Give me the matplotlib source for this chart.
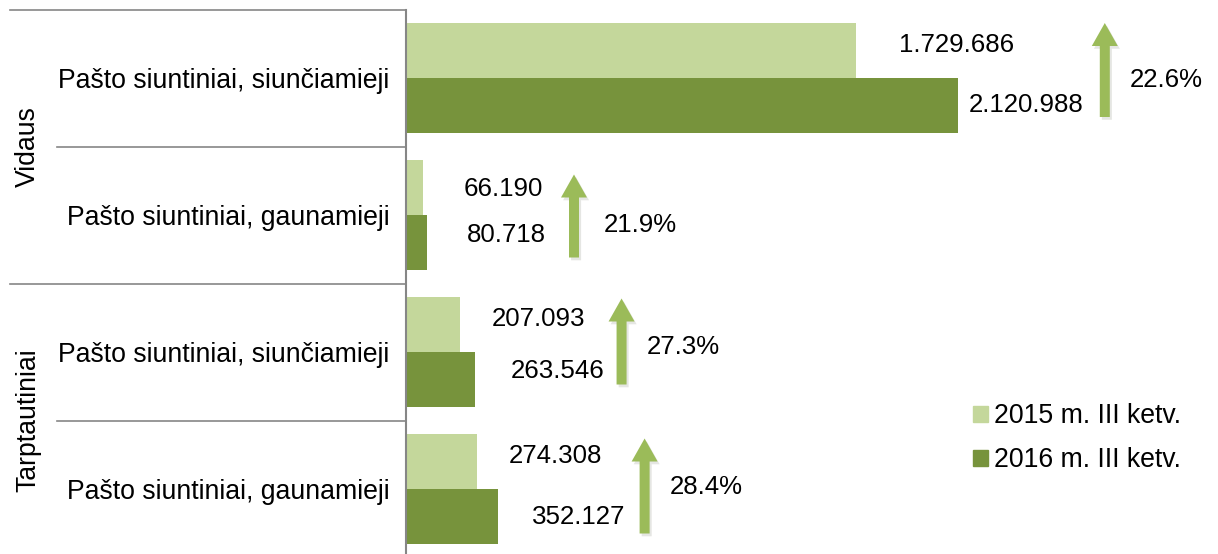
import matplotlib
matplotlib.use("Agg")
import matplotlib.pyplot as plt
import matplotlib.transforms as mtransforms
import matplotlib.patheffects as pe
from matplotlib.patches import Patch, Polygon
import numpy as np

# data
categories = ["Pašto siuntiniai, siunčiamieji", "Pašto siuntiniai, gaunamieji",
              "Pašto siuntiniai, siunčiamieji", "Pašto siuntiniai, gaunamieji"]
groups = ["Vidaus", "Tarptautiniai"]
series_names = ["2015 m. III ketv.", "2016 m. III ketv."]
values_2015 = [1729686, 66190, 207093, 274308]
values_2016 = [2120988, 80718, 263546, 352127]
growth_pct = [22.6, 21.9, 27.3, 28.4]

# layout (pixel offsets)
lbl15_dx = [43, 40, 32, 31]
lbl15_dy = [5.5, -1, 6, 6]
lbl16_dx = [11, 40, 36, 34]
lbl16_dy = [0.5, 7, 8, -1]
arrow_dx = 147
arrow_tip = [-55, -40.5, -53.5, -50.5]
arrow_base = [39, 42.5, 32.5, 44.5]
pct_dx = [25, 30, 25, 25]
pct_dy = [-2, -10.5, 4.5, 1.5]

light = "#C4D79B"
dark = "#77933C"
arrow_col = "#9BBB59"
grey = "#868686"
fs = 18.6
fs_lab = 19.2

plt.rcParams['font.family'] = ['Liberation Sans', 'DejaVu Sans']

W, H = 1218, 554
fig = plt.figure(figsize=(W / 100, H / 100), dpi=100)
ax = fig.add_axes([406 / W, (H - 557.5) / H, 812 / W, 548 / H])

y = np.arange(len(categories))
bh = 0.4
ax.barh(y - bh / 2, values_2015, height=bh, color=light, label=series_names[0])
ax.barh(y + bh / 2, values_2016, height=bh, color=dark, label=series_names[1])

ax.set_xlim(0, 812 / 2.6016e-4)
ax.set_ylim(len(categories) - 0.5, -0.5)
px = 1.0 / 137  # data units per pixel vertically

ax.set_yticks(y)
ax.set_yticklabels(categories, fontsize=fs_lab)
ax.tick_params(axis='y', length=0, pad=12)
ax.set_xticks([])
for s in ["top", "right", "bottom"]:
    ax.spines[s].set_visible(False)
ax.spines["left"].set_color(grey)
ax.spines["left"].set_linewidth(1.5)

# value labels
def fmt(v):
    return f"{v:,}".replace(",", ".")

def up_arrow(L, shaft=10, head_w=26, head_l=23):
    # vertices in pixels, origin at the arrow base, pointing up
    s, h = shaft / 2, head_w / 2
    return [(-s, 0), (s, 0), (s, L - head_l), (h, L - head_l), (0, L),
            (-h, L - head_l), (-s, L - head_l)]

for i in range(len(categories)):
    ax.annotate(fmt(values_2015[i]), xy=(values_2015[i], y[i] - bh / 2),
                xytext=(lbl15_dx[i], lbl15_dy[i]), textcoords="offset pixels",
                ha="left", va="center", fontsize=fs)
    ax.annotate(fmt(values_2016[i]), xy=(values_2016[i], y[i] + bh / 2),
                xytext=(lbl16_dx[i], lbl16_dy[i]), textcoords="offset pixels",
                ha="left", va="center", fontsize=fs)
    # growth arrow
    base_tr = (mtransforms.Affine2D().translate(arrow_dx, 0)
               + mtransforms.ScaledTranslation(values_2016[i], y[i] + arrow_base[i] * px,
                                               ax.transData))
    poly = Polygon(up_arrow(arrow_base[i] - arrow_tip[i]), closed=True,
                   facecolor=arrow_col, edgecolor="none", transform=base_tr, clip_on=False)
    poly.set_path_effects([pe.SimplePatchShadow(offset=(1.5, -2), alpha=0.12),
                           pe.Normal()])
    ax.add_patch(poly)
    tr = mtransforms.offset_copy(ax.transData, fig=fig, x=arrow_dx, y=0, units="dots")
    ax.annotate(f"{growth_pct[i]}%", xy=(values_2016[i], y[i]), xycoords=tr,
                xytext=(pct_dx[i], pct_dy[i]), textcoords="offset pixels",
                ha="left", va="center", fontsize=fs)

# separators and group labels
sep = mtransforms.blended_transform_factory(ax.transAxes, ax.transData)
outer_x = (10 - 406) / 812
inner_x = (57 - 406) / 812
for k in range(len(categories) + 1):
    yy = k - 0.5
    x0 = outer_x if k % 2 == 0 else inner_x
    ax.plot([x0, 0], [yy, yy], color=grey, lw=1.2, transform=sep, clip_on=False)
for g, name in enumerate(groups):
    ax.text((28 - 406) / 812, 2 * g + 0.5, name, rotation=90, ha="center", va="center",
            fontsize=fs_lab, transform=sep)

# legend
handles = [Patch(color=light), Patch(color=dark)]
fig.legend(handles, series_names, loc="upper left", bbox_to_anchor=(973 / W, 1 - 403 / H),
           frameon=False, fontsize=fs_lab, handlelength=0.55, handleheight=0.55,
           handletextpad=0.25, labelspacing=0.68, borderpad=0, borderaxespad=0)

fig.savefig("out.png", dpi=100)
